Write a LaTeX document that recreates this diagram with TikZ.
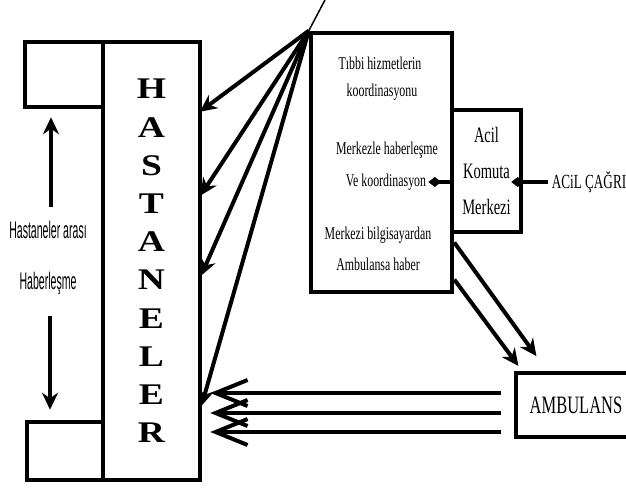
\documentclass[tikz,border=0pt]{standalone}
\usepackage{fontspec}
\setmainfont{Liberation Serif}
\newfontfamily\darfont[FakeStretch=0.66]{Liberation Serif}
\newfontfamily\darsans[FakeStretch=0.44]{Liberation Sans}
\newfontfamily\genisfont[FakeStretch=1.25]{Liberation Serif}
\usepackage{tikz}
\usetikzlibrary{arrows.meta}

\begin{document}
\begin{tikzpicture}[x=1pt, y=-1pt,
  kutu/.style={rectangle, draw, line width=4.5pt, inner sep=0pt},
  yazi/.style={font=\darfont\fontsize{18}{18}\selectfont, inner sep=2pt},
  ok/.style={line width=4pt, -{Stealth[length=17pt,width=16pt]}},
  okb/.style={line width=4pt, -{Straight Barb[length=32pt,width=26pt]}},
  baglanti/.style={line width=4pt, -{Diamond[length=13pt,width=10pt]}}]
\useasboundingbox (0,0) rectangle (626,489);

% hastaneler
\node[kutu, minimum width=97pt, minimum height=438pt, align=center,
  font=\genisfont\bfseries\fontsize{30}{38.2}\selectfont] (hastane) at (151.5,261)
  {H\\A\\S\\T\\A\\N\\E\\L\\E\\R};
\node[kutu, minimum width=78pt, minimum height=65pt] (ustkutu) at (64,74.5) {};
\node[kutu, minimum width=76pt, minimum height=58pt] (altkutu) at (65,451) {};
\node[font=\darsans\fontsize{24}{24}\selectfont] (arasi) at (48,230) {Hastaneler arası};
\node[font=\darsans\fontsize{24}{24}\selectfont] (haber) at (48,283) {Haberleşme};
\draw[ok, shorten <=11pt, shorten >=8pt] ([xshift=3pt]arasi.north) -- ([xshift=3pt]arasi.north |- ustkutu.south);
\draw[ok, shorten <=18pt, shorten >=10pt] ([xshift=2pt]haber.south) -- ([xshift=2pt]haber.south |- altkutu.north);

% merkez
\node[kutu, minimum width=141pt, minimum height=259pt] (merkez) at (381.5,162.5) {};
\node[kutu, minimum width=69pt, minimum height=122pt, align=center,
  font=\darfont\fontsize{22}{36}\selectfont] (acil) at (486.5,171) {Acil\\Komuta\\Merkezi};
\node[yazi] (tibbi) at (380,63) {Tıbbi hizmetlerin};
\node[yazi] (koord) at (382,92) {koordinasyonu};
\node[yazi] (merkezle) at (387,150) {Merkezle haberleşme};
\node[yazi] (ve) at (386,182) {Ve koordinasyon};
\node[yazi] (bilgisayar) at (378,235) {Merkezi bilgisayardan};
\node[yazi] (ambhaber) at (378,264) {Ambulansa haber};
\node[font=\darfont\fontsize{20}{20}\selectfont] (cagri) at (589,182) {ACiL ÇAĞRI};
\draw[baglanti] (acil.west |- ve.east) -- (ve.east);
\draw[baglanti, shorten >=-12pt] (cagri.west) -- (acil.east |- cagri.west);

% ambulans
\node[kutu, minimum width=120pt, minimum height=64pt,
  font=\darfont\fontsize{25}{25}\selectfont] (ambulans) at (576,405) {AMBULANS};

\coordinate (uc) at (325,0);
\draw[line width=1.5pt] (merkez.north west) -- (uc);
\foreach \k in {151,68,-12,-142}
  \draw[ok, shorten >=-3pt] (merkez.north west) -- ([yshift=\k pt]hastane.east);
\draw[ok, shorten >=18pt] ([yshift=-80pt]merkez.east) -- ([xshift=-29pt]ambulans.north);
\draw[ok, shorten >=6pt] ([yshift=-117pt]merkez.east) -- ([xshift=-54pt]ambulans.north);
\foreach \k in {12,-8,-27} {
  \path ([yshift=\k pt]ambulans.west) coordinate (p);
  \draw[okb, shorten <=13pt, shorten >=8pt] (p) -- (p -| hastane.east);
}
\end{tikzpicture}
\end{document}
